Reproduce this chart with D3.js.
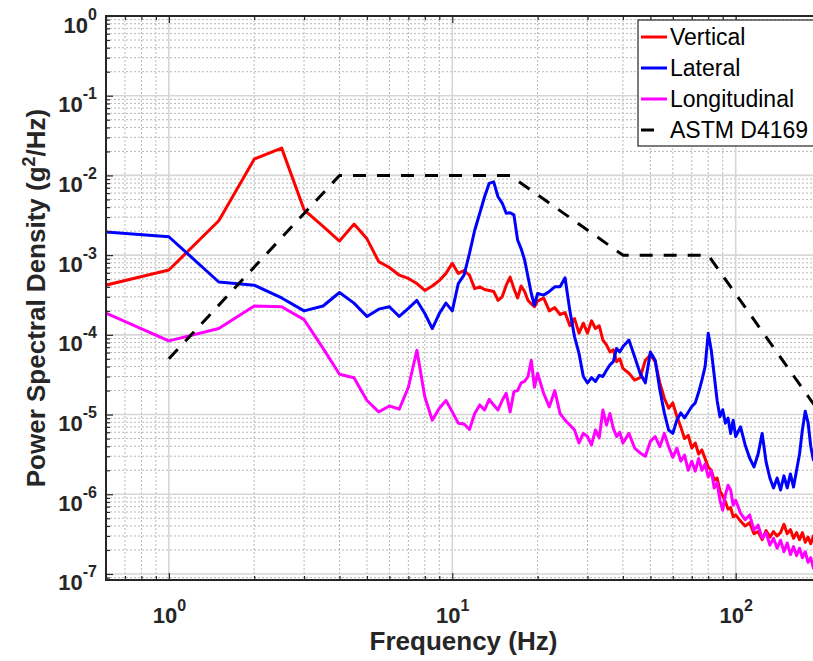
<!DOCTYPE html>
<html>
<head>
<meta charset="utf-8">
<script src="https://cdnjs.cloudflare.com/ajax/libs/d3/7.8.5/d3.min.js"></script>
<style>
  body { margin: 0; background: #fff; }
  text { font-family: "Liberation Sans", Arial, Helvetica, sans-serif; }
</style>
</head>
<body>
<div class="chart"></div>
<script>
// frequency grid (Hz) shared by the three measured PSDs
var freq = [
  0.5, 1, 1.5, 2, 2.5, 3, 3.5, 4, 4.5, 5, 5.5, 6, 6.5, 7, 7.5, 8, 8.5, 9, 9.5, 10,
  10.5, 11, 11.5, 12, 12.5, 13, 13.5, 14, 14.5, 15, 15.5, 16, 16.5, 17, 17.5, 18, 18.5, 19, 19.5, 20,
  21, 22, 23, 24, 25, 26, 27, 28, 29, 30, 31, 32, 33, 34, 35, 36, 37, 38, 39, 40,
  42, 44, 46, 48, 50, 52, 54, 56, 58, 60, 62, 64, 66, 68, 70, 72, 74, 76, 78, 80,
  82, 84, 86, 88, 90, 92, 94, 96, 98, 100,
  104, 108, 112, 116, 120, 124, 128, 132, 136, 140, 144, 148, 152, 156, 160, 164, 168, 172, 176, 180,
  184, 188, 192, 196, 200
];

var vertical = [
  3.6e-4, 6.5e-4, 2.7e-3, 1.6e-2, 2.2e-2, 3.7e-3, 2.3e-3, 1.5e-3, 2.45e-3, 1.6e-3,
  8.3e-4, 7.0e-4, 5.6e-4, 5.1e-4, 4.4e-4, 3.6e-4, 4.1e-4, 4.8e-4, 5.9e-4, 7.9e-4,
  5.9e-4, 6.4e-4, 5.6e-4, 3.8e-4, 4.0e-4, 3.7e-4, 3.6e-4, 3.5e-4, 2.7e-4, 3.0e-4,
  4.2e-4, 5.3e-4, 3.8e-4, 2.9e-4, 4.1e-4, 3.5e-4, 2.7e-4, 2.45e-4, 2.25e-4, 2.65e-4,
  2.9e-4, 2.0e-4, 2.2e-4, 1.8e-4, 1.9e-4, 1.3e-4, 1.6e-4, 1.05e-4, 1.4e-4, 1.05e-4,
  1.5e-4, 1.2e-4, 1.3e-4, 8.6e-5, 7.5e-5, 6.1e-5, 6.5e-5, 4.6e-5, 5.0e-5, 3.8e-5,
  3.3e-5, 2.7e-5, 2.9e-5, 4.8e-5, 5.6e-5, 4.6e-5, 2.5e-5, 1.6e-5, 1.2e-5, 1.4e-5,
  9.5e-6, 7.0e-6, 5.0e-6, 5.5e-6, 3.8e-6, 4.4e-6, 3.2e-6, 3.6e-6, 2.8e-6, 2.2e-6,
  2.0e-6, 1.5e-6, 1.6e-6, 1.1e-6, 9.5e-7, 8.0e-7, 6.5e-7, 6.8e-7, 5.2e-7, 5.5e-7,
  4.6e-7, 4.0e-7, 4.4e-7, 3.2e-7, 3.4e-7, 2.7e-7, 3.5e-7, 2.9e-7, 3.4e-7, 3.0e-7,
  3.3e-7, 4.2e-7, 3.2e-7, 3.6e-7, 2.8e-7, 3.3e-7, 2.7e-7, 3.3e-7, 2.5e-7, 2.9e-7,
  2.4e-7, 3.0e-7, 2.3e-7, 2.8e-7, 2.6e-7
];

var lateral = [
  2.05e-3, 1.7e-3, 4.6e-4, 4.2e-4, 2.9e-4, 2.0e-4, 2.3e-4, 3.4e-4, 2.5e-4, 1.7e-4,
  2.1e-4, 2.25e-4, 1.7e-4, 2.15e-4, 2.7e-4, 1.85e-4, 1.2e-4, 1.85e-4, 2.5e-4, 2.0e-4,
  4.4e-4, 5.6e-4, 1.05e-3, 2.05e-3, 3.35e-3, 5.4e-3, 7.95e-3, 8.3e-3, 5.4e-3, 4.5e-3,
  3.35e-3, 3.4e-3, 3.2e-3, 1.55e-3, 1.2e-3, 8.7e-4, 5.35e-4, 3.3e-4, 2.35e-4, 3.3e-4,
  3.15e-4, 3.5e-4, 4.0e-4, 4.0e-4, 5.2e-4, 2.0e-4, 9.5e-5, 5.85e-5, 3.0e-5, 2.5e-5,
  2.9e-5, 2.6e-5, 3.1e-5, 3.0e-5, 3.6e-5, 4.2e-5, 4.6e-5, 6.75e-5, 6.1e-5, 7.1e-5,
  8.6e-5, 5.3e-5, 3.3e-5, 2.5e-5, 6.1e-5, 4.8e-5, 2.05e-5, 1.05e-5, 6.4e-6, 5.8e-6,
  8.5e-6, 1.05e-5, 9.1e-6, 1.07e-5, 1.26e-5, 1.4e-5, 1.9e-5, 2.7e-5, 4.0e-5, 1.05e-4,
  6.4e-5, 3.1e-5, 1.5e-5, 9.4e-6, 1.15e-5, 7.8e-6, 9.0e-6, 5.8e-6, 8.5e-6, 5.3e-6,
  7.0e-6, 4.15e-6, 2.85e-6, 2.2e-6, 3.2e-6, 5.8e-6, 2.55e-6, 1.6e-6, 1.2e-6, 1.6e-6,
  1.13e-6, 1.7e-6, 1.2e-6, 1.8e-6, 1.23e-6, 2.0e-6, 3.2e-6, 6.5e-6, 1.1e-5, 8.0e-6,
  4.0e-6, 2.7e-6, 6.0e-6, 1.0e-5, 8.0e-6
];

var longitudinal = [
  2.5e-4, 8.4e-5, 1.2e-4, 2.3e-4, 2.25e-4, 1.55e-4, 6.75e-5, 3.2e-5, 2.9e-5, 1.5e-5,
  1.08e-5, 1.28e-5, 1.17e-5, 2.2e-5, 6.4e-5, 1.67e-5, 8.5e-6, 1.2e-5, 1.5e-5, 1.08e-5,
  7.8e-6, 7.6e-6, 6.5e-6, 1.03e-5, 1.32e-5, 1.14e-5, 1.55e-5, 1.32e-5, 1.14e-5, 1.5e-5,
  1.85e-5, 1.08e-5, 1.94e-5, 2.0e-5, 2.5e-5, 2.6e-5, 3.0e-5, 4.8e-5, 2.2e-5, 3.3e-5,
  1.85e-5, 1.25e-5, 2.0e-5, 1.03e-5, 8.5e-6, 7.4e-6, 6.4e-6, 4.4e-6, 5.8e-6, 5.3e-6,
  4.15e-6, 6.4e-6, 5.1e-6, 1.14e-5, 7.4e-6, 1.03e-5, 6.7e-6, 5.3e-6, 6.0e-6, 4.4e-6,
  5.8e-6, 3.8e-6, 3.3e-6, 3.0e-6, 4.6e-6, 5.3e-6, 3.95e-6, 5.8e-6, 3.95e-6, 2.9e-6,
  3.8e-6, 2.6e-6, 3.1e-6, 2.0e-6, 2.6e-6, 1.95e-6, 2.8e-6, 2.0e-6, 2.4e-6, 1.65e-6,
  2.0e-6, 1.2e-6, 1.4e-6, 8.4e-7, 6.3e-7, 9.8e-7, 1.3e-6, 1.13e-6, 7.3e-7, 8.4e-7,
  5.8e-7, 4.8e-7, 5.5e-7, 3.55e-7, 4.1e-7, 2.8e-7, 3.3e-7, 2.3e-7, 2.8e-7, 2.1e-7,
  2.65e-7, 1.9e-7, 2.45e-7, 1.75e-7, 2.2e-7, 1.7e-7, 2.1e-7, 1.6e-7, 1.9e-7, 1.4e-7,
  1.6e-7, 1.18e-7, 1.33e-7, 1.12e-7, 1.25e-7
];

// ASTM D4169 truck profile breakpoints
var astmFreq = [1, 4, 16, 40, 80, 200];
var astmPsd = [5e-5, 1e-2, 1e-2, 1e-3, 1e-3, 1e-5];

var xTickExp = [0, 1, 2];
var yTickExp = [-7, -6, -5, -4, -3, -2, -1, 0];

var seriesNames = ['Vertical', 'Lateral', 'Longitudinal', 'ASTM D4169'];
var seriesColors = ['#ff0000', '#0000ff', '#ff00ff', '#000000'];

var margin = { top: 16, right: 0, bottom: 81, left: 106 };
var width = 715;
var height = 564;
var axisColor = '#262626';

var svg = d3.select('.chart')
  .append('svg')
  .attr('width', 813)
  .attr('height', 661);

var g = svg.append('g')
  .attr('transform', `translate(${margin.left}, ${margin.top})`);

var xScale = d3.scaleLog().domain([0.6, 200]).range([0, width]);
var yScale = d3.scaleLog().domain([8.4e-8, 1]).range([height, 0]);

var isMajor = v => Math.abs(Math.log10(v) - Math.round(Math.log10(v))) < 1e-9;
var xAll = xScale.ticks();
var yAll = yScale.ticks();
var xMajor = xTickExp.map(e => Math.pow(10, e));
var yMajor = yTickExp.map(e => Math.pow(10, e));
var xMinor = xAll.filter(v => !isMajor(v));
var yMinor = yAll.filter(v => !isMajor(v));

// grid
var grid = g.append('g');
grid.selectAll('.xminor').data(xMinor).enter().append('line')
  .attr('x1', d => xScale(d)).attr('x2', d => xScale(d))
  .attr('y1', 0).attr('y2', height)
  .style('stroke', '#b8b8b8').style('stroke-width', 1).style('stroke-dasharray', '2,2');
grid.selectAll('.yminor').data(yMinor).enter().append('line')
  .attr('y1', d => yScale(d)).attr('y2', d => yScale(d))
  .attr('x1', 0).attr('x2', width)
  .style('stroke', '#b8b8b8').style('stroke-width', 1).style('stroke-dasharray', '2,2');
grid.selectAll('.xmajor').data(xMajor).enter().append('line')
  .attr('x1', d => xScale(d)).attr('x2', d => xScale(d))
  .attr('y1', 0).attr('y2', height)
  .style('stroke', '#d6d6d6').style('stroke-width', 1.6);
grid.selectAll('.ymajor').data(yMajor).enter().append('line')
  .attr('y1', d => yScale(d)).attr('y2', d => yScale(d))
  .attr('x1', 0).attr('x2', width)
  .style('stroke', '#d6d6d6').style('stroke-width', 1.6);

// series lines
svg.append('clipPath').attr('id', 'plotclip')
  .append('rect').attr('width', width).attr('height', height);

var plot = g.append('g').attr('clip-path', 'url(#plotclip)');
var line = d3.line()
  .x(d => xScale(d[0]))
  .y(d => yScale(d[1]));

var series = [
  freq.map((f, i) => [f, vertical[i]]),
  freq.map((f, i) => [f, lateral[i]]),
  freq.map((f, i) => [f, longitudinal[i]]),
  astmFreq.map((f, i) => [f, astmPsd[i]])
];

plot.selectAll('.line')
  .data(series)
  .enter()
  .append('path')
  .attr('class', 'line')
  .attr('d', d => line(d))
  .style('fill', 'none')
  .style('stroke', (d, i) => seriesColors[i])
  .style('stroke-width', 3)
  .style('stroke-linejoin', 'round')
  .style('stroke-dasharray', (d, i) => i === 3 ? '13,11' : null);

// axes: major + minor ticks pointing inward
function styleAxis(sel) {
  sel.select('.domain').remove();
  sel.selectAll('.tick line').style('stroke', axisColor).style('stroke-width', 1.2);
}

function sup(sel, base, baseSize, expSize, dy) {
  sel.each(function (d) {
    var t = d3.select(this);
    var e = Math.round(Math.log10(d));
    t.text(null);
    t.append('tspan').text('10').style('font-size', baseSize + 'px');
    t.append('tspan').text(e).attr('dy', dy).style('font-size', expSize + 'px');
  });
}

g.append('g')
  .attr('transform', `translate(0, ${height})`)
  .call(d3.axisBottom(xScale).tickValues(xMinor).tickSize(-4).tickFormat(''))
  .call(styleAxis);
var xAxisG = g.append('g')
  .attr('transform', `translate(0, ${height})`)
  .call(d3.axisBottom(xScale).tickValues(xMajor).tickSize(-7))
  .call(styleAxis);
xAxisG.selectAll('.tick text')
  .attr('y', 43).attr('dy', 0)
  .style('fill', axisColor).style('font-weight', 'bold')
  .call(sup, '10', 22, 16, -12);

g.append('g')
  .call(d3.axisTop(xScale).tickValues(xMinor).tickSize(-4).tickFormat(''))
  .call(styleAxis);
g.append('g')
  .call(d3.axisTop(xScale).tickValues(xMajor).tickSize(-7).tickFormat(''))
  .call(styleAxis);

g.append('g')
  .call(d3.axisLeft(yScale).tickValues(yMinor).tickSize(-4).tickFormat(''))
  .call(styleAxis);
var yAxisG = g.append('g')
  .call(d3.axisLeft(yScale).tickValues(yMajor).tickSize(-7))
  .call(styleAxis);
yAxisG.selectAll('.tick text')
  .attr('x', -9).attr('y', 16).attr('dy', 0)
  .style('fill', axisColor).style('font-weight', 'bold')
  .call(sup, '10', 22, 16, -13);

g.append('g')
  .attr('transform', `translate(${width}, 0)`)
  .call(d3.axisRight(yScale).tickValues(yMinor).tickSize(-4).tickFormat(''))
  .call(styleAxis);

// box
g.append('rect')
  .attr('width', width).attr('height', height)
  .style('fill', 'none').style('stroke', axisColor).style('stroke-width', 2);

// axis titles
g.append('text')
  .attr('x', width / 2)
  .attr('y', height + 70)
  .style('text-anchor', 'middle')
  .style('font-size', '26px').style('font-weight', 'bold').style('fill', axisColor)
  .text('Frequency (Hz)');

var yTitle = g.append('text')
  .attr('transform', `translate(-61, ${height / 2}) rotate(-90)`)
  .style('text-anchor', 'middle')
  .style('font-size', '26px').style('font-weight', 'bold').style('fill', axisColor);
yTitle.append('tspan').text('Power Spectral Density (g');
yTitle.append('tspan').text('2').attr('dy', -10).style('font-size', '18px');
yTitle.append('tspan').text('/Hz)').attr('dy', 10);

// legend
var legend = svg.append('g').attr('transform', 'translate(638, 20)');
legend.append('rect')
  .attr('width', 184).attr('height', 126)
  .style('fill', '#fff').style('stroke', axisColor).style('stroke-width', 1.2);

var items = legend.selectAll('.item')
  .data(seriesNames)
  .enter()
  .append('g')
  .attr('class', 'item')
  .attr('transform', (d, i) => `translate(0, ${17 + i * 31})`);

items.append('line')
  .attr('x1', 3).attr('x2', 29)
  .style('stroke', (d, i) => seriesColors[i])
  .style('stroke-width', 3)
  .style('stroke-dasharray', (d, i) => i === 3 ? '13,13' : null);

items.append('text')
  .attr('x', 32)
  .attr('y', 8)
  .style('font-size', '23px')
  .style('fill', '#000')
  .text(d => d);
</script>
</body>
</html>
